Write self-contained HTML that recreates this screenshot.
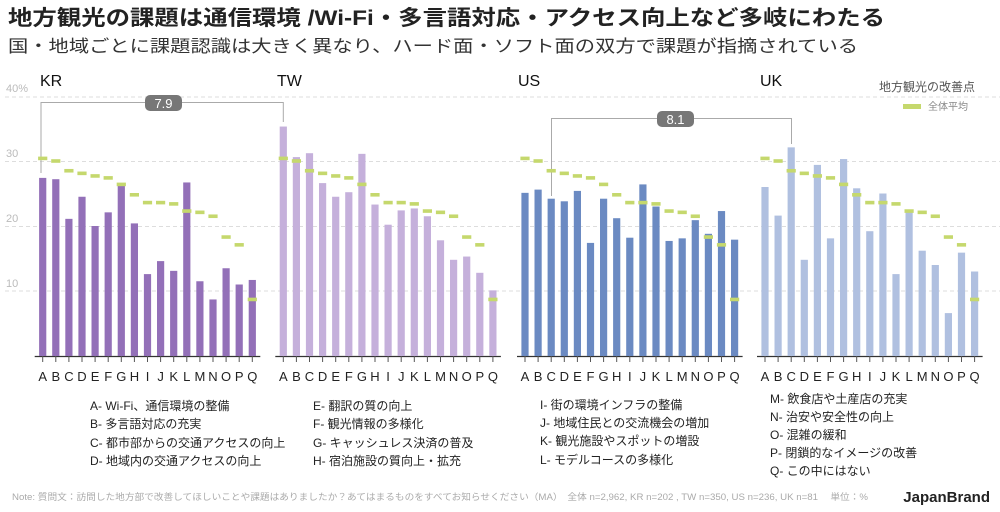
<!DOCTYPE html>
<html><head><meta charset="utf-8"><style>
body{margin:0;background:#fff;}
svg text{font-family:"Liberation Sans","Noto Sans CJK JP",sans-serif;}
</style></head><body>
<svg id="s" width="1000" height="507" viewBox="0 0 1000 507" xmlns="http://www.w3.org/2000/svg">
<text x="8" y="25" font-size="21" font-weight="bold" fill="#222" textLength="877" lengthAdjust="spacingAndGlyphs">地方観光の課題は通信環境 /Wi-Fi・多言語対応・アクセス向上など多岐にわたる</text>
<text x="8" y="52" font-size="17" fill="#333" textLength="850" lengthAdjust="spacingAndGlyphs">国・地域ごとに課題認識は大きく異なり、ハード面・ソフト面の双方で課題が指摘されている</text>
<g stroke="#ddd" stroke-dasharray="4,3" stroke-width="1">
<line x1="5" x2="1000" y1="97" y2="97"/><line x1="5" x2="1000" y1="161.5" y2="161.5"/><line x1="5" x2="1000" y1="226.5" y2="226.5"/><line x1="5" x2="1000" y1="291" y2="291"/>
</g>
<g font-size="11" fill="#bbb"><text x="6" y="92">40%</text><text x="6" y="157">30</text><text x="6" y="222">20</text><text x="6" y="287">10</text></g>
<g font-size="16" fill="#111"><text x="40" y="86">KR</text><text x="277" y="86">TW</text><text x="518" y="86">US</text><text x="760" y="86">UK</text></g>
<text x="975" y="91" font-size="12" fill="#555" text-anchor="end">地方観光の改善点</text>
<rect x="903" y="104" width="18" height="5" fill="#c5d86d"/>
<text x="928" y="110" font-size="10" fill="#888">全体平均</text>
<g stroke="#aaa" fill="none" stroke-width="1">
<polyline points="41,173 41,102.5 283.3,102.5 283.3,122"/>
<polyline points="551.5,196 551.5,118.5 791.5,118.5 791.5,144"/>
</g>
<rect x="145" y="95" width="37" height="16" rx="5" fill="#777"/><text x="163.5" y="108" font-size="13" fill="#fff" text-anchor="middle">7.9</text>
<rect x="657" y="111" width="37" height="16" rx="5" fill="#777"/><text x="675.5" y="124" font-size="13" fill="#fff" text-anchor="middle">8.1</text>
<g id="bars"></g>
<g font-size="12" fill="#222">
<text x="90" y="410">A- Wi-Fi、通信環境の整備</text><text x="90" y="428">B- 多言語対応の充実</text><text x="90" y="447">C- 都市部からの交通アクセスの向上</text><text x="90" y="465">D- 地域内の交通アクセスの向上</text>
<text x="313" y="410">E- 翻訳の質の向上</text><text x="313" y="428">F- 観光情報の多様化</text><text x="313" y="447">G- キャッシュレス決済の普及</text><text x="313" y="465">H- 宿泊施設の質向上・拡充</text>
<text x="540" y="409">I- 街の環境インフラの整備</text><text x="540" y="427">J- 地域住民との交流機会の増加</text><text x="540" y="445">K- 観光施設やスポットの増設</text><text x="540" y="464">L- モデルコースの多様化</text>
<text x="770" y="403">M- 飲食店や土産店の充実</text><text x="770" y="421">N- 治安や安全性の向上</text><text x="770" y="439">O- 混雑の緩和</text><text x="770" y="457">P- 閉鎖的なイメージの改善</text><text x="770" y="475">Q- この中にはない</text>
</g>
<text x="12" y="500" font-size="9" fill="#aaa" textLength="856" lengthAdjust="spacingAndGlyphs">Note: 質問文：訪問した地方部で改善してほしいことや課題はありましたか？あてはまるものをすべてお知らせください（MA）　全体 n=2,962, KR n=202 , TW n=350, US n=236, UK n=81　 単位：%</text>
<text x="990" y="502" font-size="15" font-weight="bold" fill="#222" text-anchor="end">JapanBrand</text>
</svg>
<script>
var avg=[30.4,30,28.5,28.1,27.7,27.4,26.4,24.8,23.6,23.6,23.4,22.3,22.1,21.5,18.3,17.1,8.7];
var P=[
{x:42.7,c:"#9370b8",v:[27.4,27.2,21.1,24.5,20,22.1,26.5,20.4,12.6,14.6,13.1,26.7,11.5,8.7,13.5,11,11.7]},
{x:283.3,c:"#c5b0db",v:[35.3,30.6,31.2,26.6,24.5,25.2,31.1,23.3,20.2,22.4,22.7,21.5,17.8,14.8,15.3,12.8,10.1]},
{x:525,c:"#6b8ac2",v:[25.1,25.6,24.2,23.8,25.4,17.4,24.2,21.2,18.2,26.4,23,17.7,18.1,20.9,18.8,22.3,17.9]},
{x:765,c:"#b0c0e0",v:[26,21.6,32.1,14.8,29.4,18.1,30.3,25.8,19.2,25,12.6,22.3,16.2,14,6.6,15.9,13]}];
var L="ABCDEFGHIJKLMNOPQ",st=13.1,h="";
function y(v){return 356-6.5*v;}
P.forEach(function(p){
 h+='<line x1="'+(p.x-8)+'" x2="'+(p.x+16*st+8)+'" y1="356.5" y2="356.5" stroke="#333" stroke-width="1.3"/>';
 for(var i=0;i<17;i++){var cx=p.x+i*st;
  h+='<rect x="'+(cx-3.6)+'" y="'+y(p.v[i])+'" width="7.2" height="'+(356-y(p.v[i]))+'" fill="'+p.c+'"/>';
  h+='<line x1="'+cx+'" x2="'+cx+'" y1="356" y2="362" stroke="#555"/>';
  h+='<text x="'+cx+'" y="381" font-size="13" fill="#222" text-anchor="middle">'+L[i]+'</text>';}
 for(var i=0;i<17;i++){var cx=p.x+i*st;
  h+='<rect x="'+(cx-4.6)+'" y="'+(y(avg[i])-1.8)+'" width="9.2" height="3.6" fill="#c5d86d"/>';}
});
document.getElementById("bars").innerHTML=h;
</script>
</body></html>
